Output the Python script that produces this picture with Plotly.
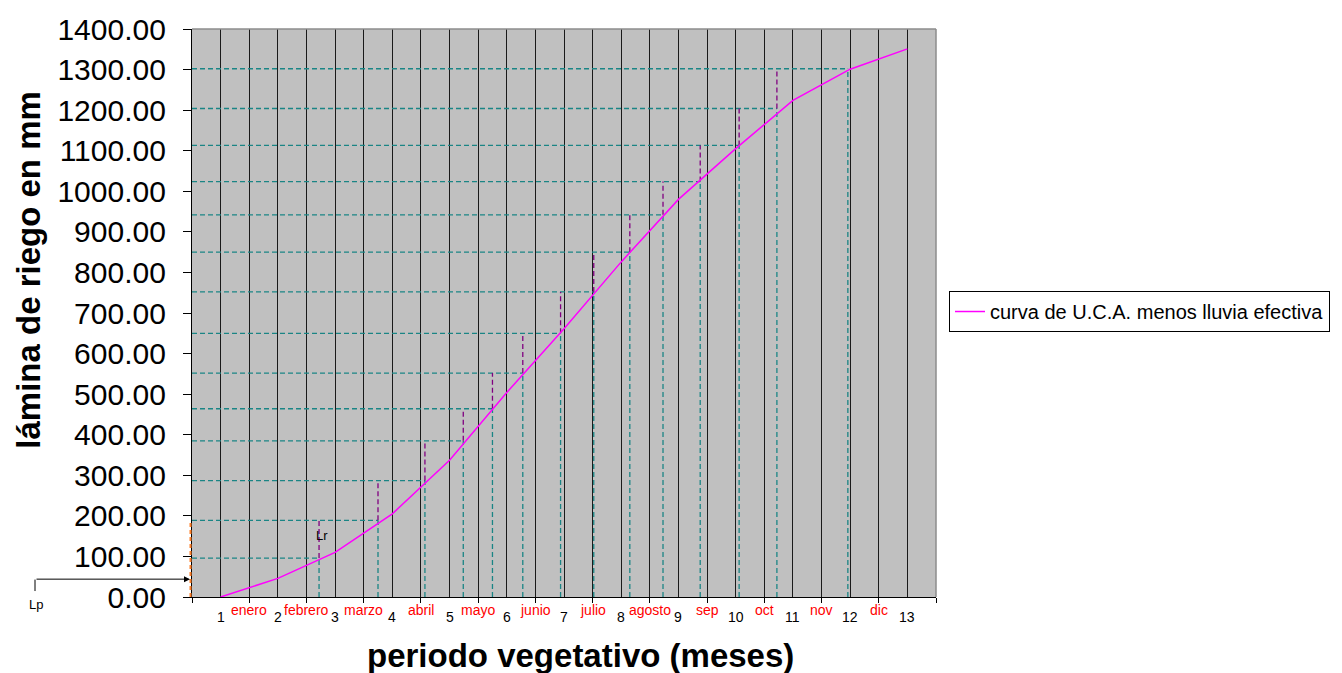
import plotly.graph_objects as go

# ---------------- data ----------------
periodos = list(range(1, 14))
meses = ["enero", "febrero", "marzo", "abril", "mayo", "junio", "julio",
         "agosto", "sep", "oct", "nov", "dic"]
uca_menos_pe = [0, 46, 110, 205, 337, 504, 661, 826, 980, 1105, 1224, 1301, 1351]
riego_x = [2.72, 3.75, 4.57, 5.24, 5.75, 6.28, 6.94, 7.52, 8.15, 8.73, 9.38,
           10.06, 10.72, 11.96]
riego_nivel = [96, 189, 287, 385, 464, 552, 650, 752, 850, 942, 1024, 1113,
               1204, 1302]
lamina_previa = 44          # Lp
nivel_inicial = 189         # orange dashed at start
y_ticks = list(range(0, 1401, 100))

# ---------------- layout geometry ----------------
W, H = 1342, 673
ML, MR, MT, MB = 192, 406, 26, 76
PW, PH = W - ML - MR, H - MT - MB
X0 = 0.5
X_END = len(periodos) + 0.5


def pxp(xp):
    return (xp - ML) / PW


def pyp(yp):
    return (H - MB - yp) / PH


FONT = "Arial, Liberation Sans, sans-serif"
TEAL = "#1a8585"
PURPLE = "#800080"

fig = go.Figure()

# teal staircase (horizontal to axis + vertical to x axis)
tx, ty = [], []
for xk, lk in zip(riego_x, riego_nivel):
    tx += [X0, xk, None, xk, xk, None]
    ty += [lk, lk, None, 0, lk, None]
fig.add_trace(go.Scatter(x=tx, y=ty, mode="lines", showlegend=False,
                         hoverinfo="skip",
                         line=dict(color=TEAL, width=1.3, dash="5px,3px")))

# purple risers
ux, uy = [], []
for k in range(len(riego_x) - 1):
    ux += [riego_x[k], riego_x[k], None]
    uy += [riego_nivel[k], riego_nivel[k + 1], None]
fig.add_trace(go.Scatter(x=ux, y=uy, mode="lines", showlegend=False,
                         hoverinfo="skip",
                         line=dict(color=PURPLE, width=1.3, dash="5px,3px")))

# main curve
fig.add_trace(go.Scatter(x=periodos, y=uca_menos_pe, mode="lines",
                         name="curva de U.C.A. menos lluvia efectiva",
                         line=dict(color="#FF00FF", width=1.5)))

annotations = []
# period numbers
for p in periodos:
    annotations.append(dict(x=p, y=0, xref="x", yref="paper", text=str(p),
                            showarrow=False, yanchor="middle", yshift=-20,
                            font=dict(family=FONT, size=14, color="black")))
# month names
for i, m in enumerate(meses):
    annotations.append(dict(x=periodos[i] + 0.5, y=0, xref="x", yref="paper",
                            text=m, showarrow=False, yanchor="middle",
                            yshift=-13,
                            font=dict(family=FONT, size=14, color="#FF0000")))
# Lr label
annotations.append(dict(x=riego_x[0], y=(riego_nivel[0] + riego_nivel[1]) / 2,
                        xref="x", yref="y", text="Lr", showarrow=False,
                        xshift=3, yshift=4,
                        font=dict(family=FONT, size=13, color="black")))
# Lp arrow
annotations.append(dict(x=pxp(190), y=lamina_previa, xref="paper", yref="y",
                        text="", showarrow=True, ax=-155, ay=0,
                        arrowhead=2, arrowsize=1.2, arrowwidth=1,
                        arrowcolor="black"))
annotations.append(dict(x=pxp(36), y=pyp(605), xref="paper", yref="paper",
                        text="Lp", showarrow=False, xanchor="center",
                        yanchor="middle",
                        font=dict(family=FONT, size=13, color="black")))
# axis titles
annotations.append(dict(x=pxp(29), y=pyp(268), xref="paper", yref="paper",
                        text="<b>lámina de riego en mm</b>", textangle=-90,
                        showarrow=False, xanchor="center", yanchor="middle",
                        font=dict(family=FONT, size=33, color="black")))
annotations.append(dict(x=pxp(580), y=pyp(656), xref="paper", yref="paper",
                        text="<b>periodo vegetativo (meses)</b>",
                        showarrow=False, xanchor="center", yanchor="middle",
                        font=dict(family=FONT, size=33, color="black")))

shapes = [
    # orange dashed at start
    dict(type="line", xref="paper", yref="y", x0=-0.002, x1=-0.002,
         y0=0, y1=nivel_inicial,
         line=dict(color="#FF7F27", width=2, dash="4px,3px")),
    # Lp bracket
    dict(type="line", xref="paper", yref="paper", x0=pxp(35), x1=pxp(35),
         y0=pyp(579.5), y1=pyp(591), line=dict(color="black", width=1)),
    # top & right plot borders (gray)
    dict(type="line", xref="paper", yref="paper", x0=0, x1=1, y0=1, y1=1,
         line=dict(color="#8c8c8c", width=1.5), layer="above"),
    dict(type="line", xref="paper", yref="paper", x0=1, x1=1, y0=0, y1=1,
         line=dict(color="#8c8c8c", width=1.5), layer="above"),
]

boundaries = [p - 0.5 for p in periodos] + [X_END]

fig.update_layout(
    width=W, height=H,
    margin=dict(l=ML, r=MR, t=MT, b=MB, pad=0),
    paper_bgcolor="white",
    plot_bgcolor="#C0C0C0",
    font=dict(family=FONT, color="black"),
    annotations=annotations,
    shapes=shapes,
    showlegend=True,
    legend=dict(x=pxp(949), y=pyp(310), xref="paper", yref="paper",
                xanchor="left", yanchor="middle",
                bgcolor="white", bordercolor="black", borderwidth=1,
                font=dict(family=FONT, size=20, color="black"),
                itemwidth=30),
    xaxis=dict(range=[X0, X_END], tickmode="array", tickvals=boundaries,
               showticklabels=False, ticks="outside", ticklen=5,
               tickcolor="black", showline=True, linecolor="black",
               linewidth=1.3, showgrid=True, gridcolor="#1a1a1a",
               gridwidth=1.4, zeroline=False,
               minor=dict(tickvals=periodos, showgrid=True,
                          gridcolor="#1a1a1a", gridwidth=1.4, ticks="")),
    yaxis=dict(range=[0, 1400], tickmode="array", tickvals=y_ticks,
               tickformat=".2f", ticks="outside", ticklen=8,
               tickcolor="black", showline=True, linecolor="black",
               linewidth=1.3, showgrid=False, zeroline=False,
               ticklabelstandoff=11,
               tickfont=dict(family=FONT, size=30, color="black")),
)

fig.write_html("out.html",
               config={"displayModeBar": False},
               post_script="document.body.style.margin='0';"
                           "document.body.style.overflow='hidden';")
